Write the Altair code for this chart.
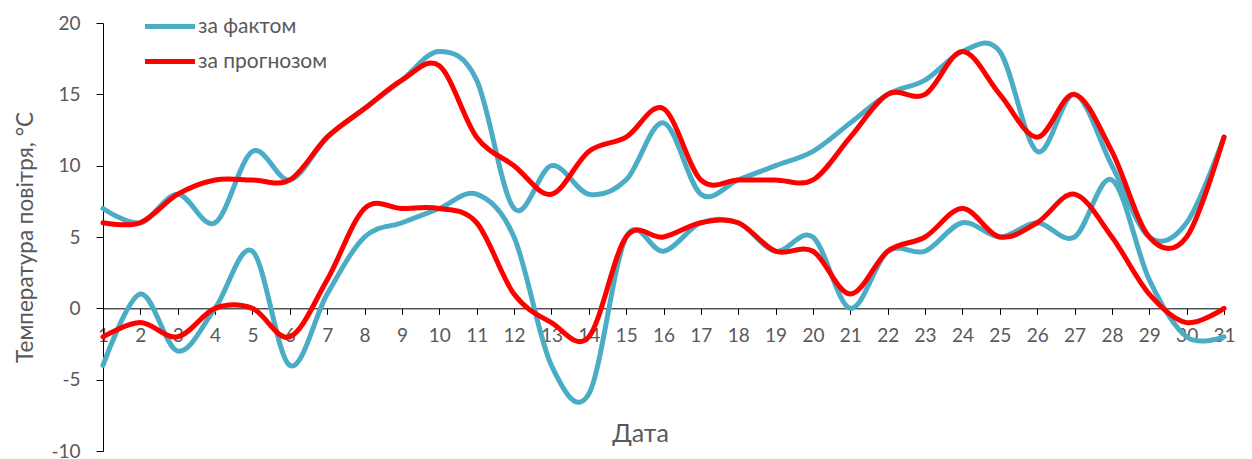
import altair as alt
import pandas as pd

days = list(range(1, 32))
fact_max = [7, 6, 8, 6, 11, 9, 12, 14, 16, 18, 16, 7, 10, 8, 9, 13, 8, 9, 10, 11, 13, 15, 16, 18, 18, 11, 15, 10, 5, 6, 12]
fact_min = [-4, 1, -3, 0, 4, -4, 1, 5, 6, 7, 8, 5, -4, -6, 5, 4, 6, 6, 4, 5, 0, 4, 4, 6, 5, 6, 5, 9, 2, -2, -2]
fc_max = [6, 6, 8, 9, 9, 9, 12, 14, 16, 17, 12, 10, 8, 11, 12, 14, 9, 9, 9, 9, 12, 15, 15, 18, 15, 12, 15, 11, 5, 5, 12]
fc_min = [-2, -1, -2, 0, 0, -2, 2, 7, 7, 7, 6, 1, -1, -2, 5, 5, 6, 6, 4, 4, 1, 4, 5, 7, 5, 6, 8, 5, 1, -1, 0]

series_names = ["за фактом", "за прогнозом"]
colors = ["#4BACC6", "#FF0000"]
y_ticks = [-10, -5, 0, 5, 10, 15, 20]

rows = []
for name, kind, vals in [
    (series_names[0], "max", fact_max),
    (series_names[0], "min", fact_min),
    (series_names[1], "max", fc_max),
    (series_names[1], "min", fc_min),
]:
    for d, v in zip(days, vals):
        rows.append({"day": d, "temp": v, "series": name, "line": name + "_" + kind})
df = pd.DataFrame(rows)

FONT = "Lato"
GRAY = "#595959"
W, H = 1121, 428

color_scale = alt.Scale(domain=series_names, range=colors)

x_enc = alt.X(
    "day:Q",
    scale=alt.Scale(domain=[1, 31], nice=False, zero=False),
    axis=alt.Axis(
        values=days, format="d", grid=False, offset=-H * 10 / 30,
        domainColor="#000000", domainWidth=1, tickColor="#000000", tickSize=6,
        labelFont=FONT, labelFontSize=19, labelColor=GRAY, labelPadding=12,
        labelFlush=False, labelOverlap=False,
        title="Дата", titleFont=FONT, titleFontSize=25, titleColor=GRAY,
        titleFontWeight="normal", titleX=537, titleY=125, titleBaseline="middle",
        titleAlign="center",
    ),
)
y_enc = alt.Y(
    "temp:Q",
    scale=alt.Scale(domain=[-10, 20], nice=False, zero=False),
    axis=alt.Axis(
        values=y_ticks, grid=False, labelExpr="'' + datum.value",
        domainColor="#000000", domainWidth=1, tickColor="#000000", tickSize=7,
        labelFont=FONT, labelFontSize=19, labelColor=GRAY, labelPadding=16,
        title="Температура повітря, °С", titleFont=FONT, titleFontSize=22.5,
        titleColor=GRAY, titleFontWeight="normal", titleX=-78, titleY=214,
        titleAngle=-90, titleAlign="center", titleBaseline="middle",
    ),
)

chart = (
    alt.Chart(df)
    .mark_line(interpolate="cardinal", tension=0, strokeWidth=5, strokeCap="round", strokeJoin="round")
    .encode(
        x=x_enc,
        y=y_enc,
        color=alt.Color(
            "series:N",
            scale=color_scale,
            sort=series_names,
            legend=alt.Legend(
                orient="none", legendX=46, legendY=-17.5, title=None,
                symbolType="M-1.35,0H1.35", symbolSize=1369, symbolStrokeWidth=5,
                labelFont=FONT, labelFontSize=21, labelColor=GRAY,
                labelOffset=7, rowPadding=4, padding=0,
            ),
        ),
        detail="line:N",
        order=alt.Order("day:Q"),
    )
    .properties(
        width=W, height=H,
        autosize=alt.AutoSizeParams(type="none"),
        padding={"left": 95, "top": 15, "right": 20, "bottom": 10},
    )
    .configure_view(stroke=None)
)

chart.save("out.html", embed_options={"renderer": "svg", "actions": False})
